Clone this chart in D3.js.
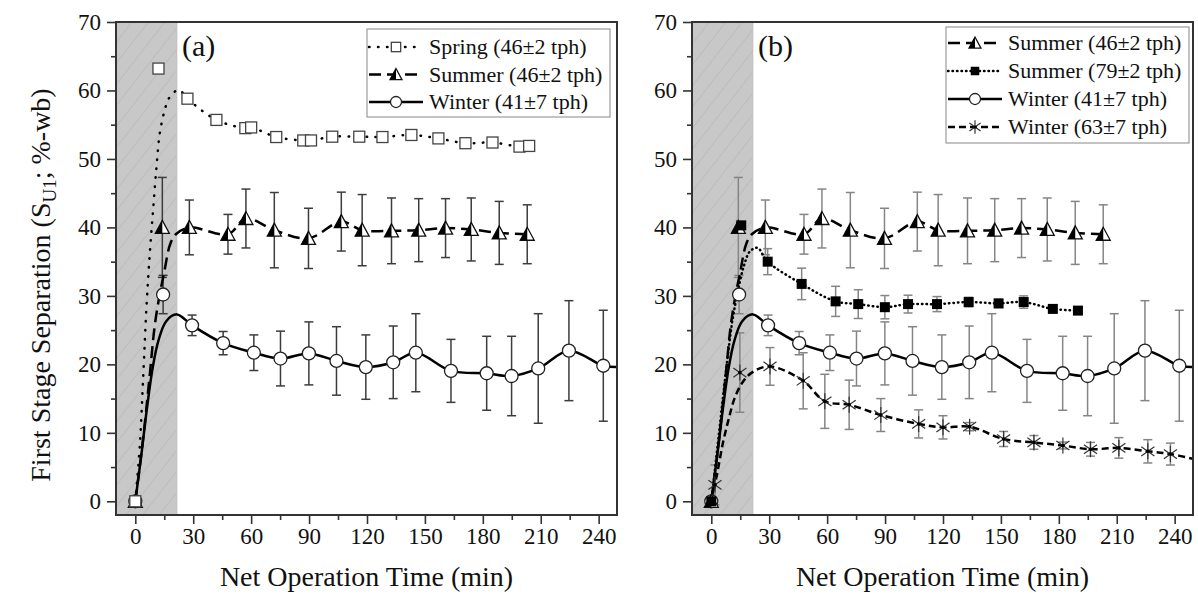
<!DOCTYPE html>
<html>
<head>
<meta charset="utf-8">
<script src="https://cdn.jsdelivr.net/npm/d3@7"></script>
<style>
  body { margin: 0; background: #fff; }
  text { font-family: "Liberation Serif", "Times New Roman", serif; fill: #111; }
</style>
</head>
<body>
<svg id="chart" width="1198" height="605"></svg>
<script>
// ---- data (time in min, separation in %-wb) ----
const springT = [0, 12, 27, 42, 57, 60, 73, 87, 91, 102, 116, 128, 143, 157, 171, 185, 199, 204];
const springS = [0, 63.2, 58.8, 55.7, 54.5, 54.6, 53.2, 52.7, 52.7, 53.25, 53.25, 53.2, 53.5, 53.0, 52.3, 52.4, 51.8, 51.9];
const springRise = [[0, 0], [2.3, 8], [4, 17.7], [5.8, 28.5], [7.5, 36.2], [9.2, 42.5], [11, 48.9], [12.7, 53.8], [15.3, 57.2], [17.5, 58.9], [22.5, 60.1]];

const summerT = [0, 14, 28, 48, 57.3, 72, 89.7, 106.7, 117.5, 132.7, 146.8, 160.7, 174, 188.5, 203];
const summerS = [0, 40.0, 40.0, 39.0, 41.3, 39.6, 38.4, 40.85, 39.6, 39.5, 39.6, 39.9, 39.7, 39.2, 39.0];
const summerE = [0, 7.3, 4.0, 2.9, 4.3, 5.5, 4.4, 4.3, 5.2, 4.8, 4.6, 4.3, 4.6, 4.6, 4.3];
const summerRise = [[0, 0], [4, 9], [7.5, 18.5], [10, 25.5], [12.5, 30], [15, 33.5], [18, 37.5], [21, 39]];

const winterT = [0, 14.4, 29.4, 45.5, 61.4, 75.2, 89.9, 104.2, 119.4, 133.6, 145.3, 163.5, 182, 194.9, 208.7, 224.6, 242.4];
const winterS = [0, 30.2, 25.7, 23.1, 21.7, 20.85, 21.6, 20.5, 19.6, 20.3, 21.7, 19.05, 18.7, 18.3, 19.4, 22.0, 19.8];
const winterE = [0, 2.8, 1.5, 1.7, 2.6, 4.0, 4.6, 5.0, 4.7, 5.3, 5.7, 4.6, 5.4, 5.8, 8.0, 7.3, 8.1];
const winterRise = [[0, 0], [3, 6.5], [6, 13.5], [9, 19.5], [12, 23.5], [16, 26.3], [21.5, 27.3]];
const winterTail = [[249.5, 19.6]];

const summer79T = [0, 15.5, 29.2, 46.8, 64.4, 76.1, 89.9, 101.9, 116.9, 133.3, 148.8, 161.8, 176.9, 189.9];
const summer79S = [0, 40.3, 35.0, 31.75, 29.2, 28.8, 28.35, 28.8, 28.8, 29.1, 28.9, 29.1, 28.1, 27.85];
const summer79E = [0, 0, 1.9, 2.3, 2.2, 2.1, 1.7, 1.3, 1.1, 0.7, 0.6, 0.9, 0.4, 0.3];
const summer79Rise = [[0, 0], [4, 10], [8, 20], [11, 26.5], [14, 31], [17, 34.5], [20, 36.5], [24, 37]];

const winter63T = [1.9, 14.8, 30.4, 47.6, 58.8, 71.4, 87.8, 107.4, 120, 133.8, 151.4, 167.1, 182.1, 196.4, 211.1, 226.1, 237.8];
const winter63S = [2.4, 18.8, 19.7, 17.6, 14.6, 14.1, 12.6, 11.3, 10.8, 10.9, 9.1, 8.6, 8.15, 7.6, 7.8, 7.3, 6.9];
const winter63E = [2.9, 5.8, 2.75, 4.1, 3.95, 3.6, 2.4, 2.05, 1.7, 0.6, 1.1, 1.0, 0.5, 1.0, 1.5, 1.7, 1.6];
const winter63Rise = [[0, 0], [3, 4], [6, 8.5], [9, 12], [12, 15], [16, 17.3], [21, 18.8]];
const winter63Tail = [[249.5, 6.2]];

const xTicks = [0, 30, 60, 90, 120, 150, 180, 210, 240];
const xMinor = [15, 45, 75, 105, 135, 165, 195, 225];
const yTicks = [0, 10, 20, 30, 40, 50, 60, 70];
const yMinor = [5, 15, 25, 35, 45, 55, 65];
const shadeEnd = 21.5;

const series = {
  spring:   { t: springT, v: springS, e: null, rise: springRise, tail: [], marker: 'sqOpen', dash: '0.5,8.5', label: 'Spring (46\u00b12 tph)' },
  summer:   { t: summerT, v: summerS, e: summerE, rise: summerRise, tail: [], marker: 'tri', dash: '12,6', label: 'Summer (46\u00b12 tph)' },
  winter:   { t: winterT, v: winterS, e: winterE, rise: winterRise, tail: winterTail, marker: 'circle', dash: null, label: 'Winter (41\u00b17 tph)' },
  summer79: { t: summer79T, v: summer79S, e: summer79E, rise: summer79Rise, tail: [], marker: 'sqFill', dash: '0.5,4', label: 'Summer (79\u00b12 tph)' },
  winter63: { t: winter63T, v: winter63S, e: winter63E, rise: winter63Rise, tail: winter63Tail, marker: 'star', dash: '7,4', label: 'Winter (63\u00b17 tph)' }
};

const plotTop = 22, plotBottom = 515;
const xDomain = [-10, 249.5], yDomain = [-2, 70];

const svg = d3.select('#chart');
const defs = svg.append('defs');

const pat = defs.append('pattern')
  .attr('id', 'hatch')
  .attr('patternUnits', 'userSpaceOnUse')
  .attr('width', 13).attr('height', 13)
  .attr('patternTransform', 'rotate(38)');
pat.append('rect').attr('width', 13).attr('height', 13).attr('fill', '#c8c8c8');
pat.append('line').attr('x1', 0).attr('y1', 0).attr('x2', 0).attr('y2', 13)
  .attr('stroke', '#b6b6b6').attr('stroke-width', 1.2);

function drawMarker(g, type, k) {
  k = k || 1;
  if (type === 'sqOpen') {
    g.append('rect').attr('x', -5.5 * k).attr('y', -5.5 * k).attr('width', 11 * k).attr('height', 11 * k)
      .attr('fill', '#fff').attr('stroke', '#444').attr('stroke-width', 1.3);
  } else if (type === 'sqFill') {
    g.append('rect').attr('x', -5 * k).attr('y', -5 * k).attr('width', 10 * k).attr('height', 10 * k)
      .attr('fill', '#000');
  } else if (type === 'circle') {
    g.append('circle').attr('r', 6.5 * k).attr('fill', '#fff').attr('stroke', '#222').attr('stroke-width', 1.3);
  } else if (type === 'tri') {
    g.append('path').attr('d', `M0,${-7 * k}L${-7 * k},${6 * k}L${7 * k},${6 * k}Z`)
      .attr('fill', '#fff').attr('stroke', '#111').attr('stroke-width', 1.3);
    g.append('path').attr('d', `M0,${-7 * k}L${-7 * k},${6 * k}L0,${6 * k}Z`).attr('fill', '#000');
  } else if (type === 'star') {
    [90, 35, -35].forEach(a => {
      const r = 8 * k, dx = r * Math.cos(a * Math.PI / 180), dy = r * Math.sin(a * Math.PI / 180);
      g.append('line').attr('x1', -dx).attr('y1', -dy).attr('x2', dx).attr('y2', dy)
        .attr('stroke', '#333').attr('stroke-width', 1.2);
    });
    g.append('circle').attr('r', 1.8 * k).attr('fill', '#000');
  }
}

function linePoints(s) {
  const pts = s.rise.slice();
  s.t.forEach((t, i) => { if (t >= 25) pts.push([t, s.v[i]]); });
  return pts.concat(s.tail);
}

function drawPanel(cfg) {
  const x = d3.scaleLinear().domain(xDomain).range([cfg.left, cfg.right]);
  const y = d3.scaleLinear().domain(yDomain).range([plotBottom, plotTop]);
  const g = svg.append('g');

  defs.append('clipPath').attr('id', 'clip-' + cfg.id)
    .append('rect').attr('x', cfg.left).attr('y', plotTop)
    .attr('width', cfg.right - cfg.left).attr('height', plotBottom - plotTop);

  // start-up zone
  g.append('rect')
    .attr('x', x(xDomain[0])).attr('y', plotTop)
    .attr('width', x(shadeEnd) - x(xDomain[0])).attr('height', plotBottom - plotTop)
    .attr('fill', 'url(#hatch)');
  g.append('line')
    .attr('x1', x(shadeEnd)).attr('x2', x(shadeEnd)).attr('y1', plotTop).attr('y2', plotBottom)
    .attr('stroke', '#bdbdbd').attr('stroke-width', 1);

  const plot = g.append('g').attr('clip-path', `url(#clip-${cfg.id})`);
  const line = d3.line().x(d => x(d[0])).y(d => y(d[1])).curve(d3.curveCatmullRom.alpha(0.5));

  // error bars
  cfg.keys.forEach(key => {
    const s = series[key];
    if (!s.e) return;
    s.t.forEach((t, i) => {
      if (!s.e[i]) return;
      const eg = plot.append('g').attr('stroke', cfg.errColor).attr('stroke-width', 1.5);
      const cx = x(t), y0 = y(s.v[i] - s.e[i]), y1 = y(s.v[i] + s.e[i]);
      eg.append('line').attr('x1', cx).attr('x2', cx).attr('y1', y0).attr('y2', y1);
      eg.append('line').attr('x1', cx - 4.5).attr('x2', cx + 4.5).attr('y1', y0).attr('y2', y0);
      eg.append('line').attr('x1', cx - 4.5).attr('x2', cx + 4.5).attr('y1', y1).attr('y2', y1);
    });
  });

  // fitted lines
  cfg.keys.forEach(key => {
    const s = series[key];
    plot.append('path')
      .attr('d', line(linePoints(s)))
      .attr('fill', 'none')
      .attr('stroke', '#000')
      .attr('stroke-width', 2.5)
      .attr('stroke-linecap', s.dash && s.dash.startsWith('0.5') ? 'round' : 'butt')
      .attr('stroke-dasharray', s.dash);
  });

  // markers
  cfg.keys.forEach(key => {
    const s = series[key];
    s.t.forEach((t, i) => {
      drawMarker(plot.append('g').attr('transform', `translate(${x(t)},${y(s.v[i])})`), s.marker);
    });
  });

  // axes
  const xAxis = g.append('g').attr('transform', `translate(0,${plotBottom})`)
    .call(d3.axisBottom(x).tickValues(xTicks).tickSize(9).tickPadding(4).tickFormat(d3.format('d')));
  const xAxisMinor = g.append('g').attr('transform', `translate(0,${plotBottom})`)
    .call(d3.axisBottom(x).tickValues(xMinor).tickSize(5).tickFormat(''));
  const yAxis = g.append('g').attr('transform', `translate(${cfg.left},0)`)
    .call(d3.axisLeft(y).tickValues(yTicks).tickSize(9).tickPadding(6).tickFormat(d3.format('d')));
  const yAxisMinor = g.append('g').attr('transform', `translate(${cfg.left},0)`)
    .call(d3.axisLeft(y).tickValues(yMinor).tickSize(5).tickFormat(''));
  [xAxis, xAxisMinor, yAxis, yAxisMinor].forEach(a => {
    a.select('.domain').remove();
    a.selectAll('line').attr('stroke', '#333').attr('stroke-width', 1.6);
    a.selectAll('text').style('font-family', '"Liberation Serif", serif').style('font-size', '23px').attr('fill', '#111');
  });

  g.append('rect')
    .attr('x', cfg.left).attr('y', plotTop)
    .attr('width', cfg.right - cfg.left).attr('height', plotBottom - plotTop)
    .attr('fill', 'none').attr('stroke', '#333').attr('stroke-width', 2);

  g.append('text').attr('x', x(-10) + 66).attr('y', 56)
    .style('font-size', '30px').text(cfg.tag);

  g.append('text')
    .attr('x', (cfg.left + cfg.right) / 2).attr('y', 586)
    .attr('text-anchor', 'middle').style('font-size', '28px')
    .text('Net Operation Time (min)');

  // legend
  const lg = g.append('g');
  lg.append('rect')
    .attr('x', cfg.legend.x).attr('y', cfg.legend.y)
    .attr('width', cfg.legend.w).attr('height', cfg.legend.h)
    .attr('fill', '#fff').attr('stroke', '#888').attr('stroke-width', 1);
  cfg.legendKeys.forEach((key, i) => {
    const s = series[key];
    const ry = cfg.legend.y0 + i * cfg.legend.dy;
    const x0 = cfg.legend.x + 2, x1 = x0 + 54;
    lg.append('line').attr('x1', x0).attr('x2', x1).attr('y1', ry).attr('y2', ry)
      .attr('stroke', '#000').attr('stroke-width', 2.5)
      .attr('stroke-linecap', s.dash && s.dash.startsWith('0.5') ? 'round' : 'butt')
      .attr('stroke-dasharray', s.dash);
    drawMarker(lg.append('g').attr('transform', `translate(${(x0 + x1) / 2},${ry})`), s.marker, 0.85);
    lg.append('text').attr('x', x1 + 6).attr('y', ry).attr('dy', '0.33em')
      .style('font-size', '22px').text(s.label);
  });
}

drawPanel({
  id: 'a', tag: '(a)', left: 116, right: 617, errColor: '#3c3c3c',
  keys: ['winter', 'summer', 'spring'],
  legendKeys: ['spring', 'summer', 'winter'],
  legend: { x: 367, y: 29, w: 243, h: 88, y0: 47, dy: 27.5 }
});

drawPanel({
  id: 'b', tag: '(b)', left: 692, right: 1193, errColor: '#858585',
  keys: ['winter63', 'winter', 'summer', 'summer79'],
  legendKeys: ['summer', 'summer79', 'winter', 'winter63'],
  legend: { x: 946, y: 27, w: 243, h: 116, y0: 43, dy: 28 }
});

// shared y title
const yt = svg.append('text')
  .attr('transform', 'translate(50,285) rotate(-90)')
  .attr('text-anchor', 'middle')
  .style('font-size', '28px');
yt.append('tspan').text('First Stage Separation (S');
yt.append('tspan').attr('dy', 6).style('font-size', '19px').text('U1');
yt.append('tspan').attr('dy', -6).text('; %-wb)');
</script>
</body>
</html>
